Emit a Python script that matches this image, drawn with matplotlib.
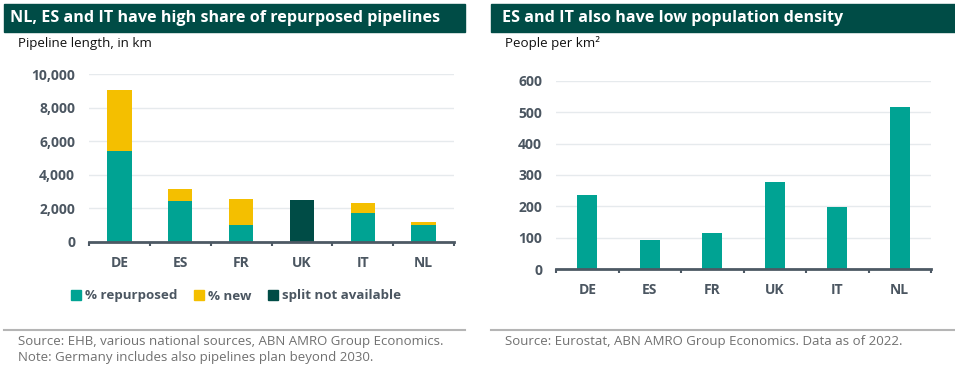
import numpy as np
import matplotlib
matplotlib.use("Agg")
import matplotlib.pyplot as plt
from matplotlib.patches import Rectangle, Patch
from matplotlib.lines import Line2D

plt.rcParams['font.family'] = ['Open Sans', 'DejaVu Sans']

# data
countries = ['DE', 'ES', 'FR', 'UK', 'IT', 'NL']
repurposed = [5420, 2450, 1000, 0, 1710, 1000]
new = [3630, 680, 1530, 0, 580, 180]
not_split = [0, 0, 0, 2490, 0, 0]
density = [235, 93, 115, 278, 197, 517]

TEAL = '#00a393'
YELLOW = '#f4bf00'
DARK = '#004c46'
TXT = '#4b5661'
GRID = '#e6eaed'
W, H = 955, 367

fig = plt.figure(figsize=(W / 100, H / 100), dpi=100)


def box(x0, y0, x1, y1):
    # pixel box -> figure fraction [l, b, w, h]
    return [x0 / W, 1 - y1 / H, (x1 - x0) / W, (y1 - y0) / H]


def style(ax, ymax, step):
    ax.set_xlim(-0.5, len(countries) - 0.5)
    ax.set_ylim(0, ymax)
    ax.set_yticks(np.arange(0, ymax + 1, step))
    ax.set_xticks(range(len(countries)))
    ax.set_xticklabels(countries)
    ax.set_xticks(np.arange(-0.5, len(countries)), minor=True)
    for s in ['top', 'right', 'left']:
        ax.spines[s].set_visible(False)
    ax.spines['bottom'].set_color('#4d5964')
    ax.spines['bottom'].set_linewidth(2)
    ax.tick_params(axis='x', which='major', length=0, pad=10, labelsize=10, labelcolor=TXT)
    ax.tick_params(axis='x', which='minor', length=3, width=1.5, color='#4d5964')
    ax.tick_params(axis='y', length=0, pad=10, labelsize=10, labelcolor=TXT)
    ax.grid(axis='y', color=GRID, linewidth=1)
    ax.set_axisbelow(True)


def bold_ticks(ax):
    for lab in ax.get_xticklabels() + ax.get_yticklabels():
        lab.set_fontweight('bold')


def header(x0, x1, tx, title, sub):
    fig.patches.append(Rectangle((x0 / W, 1 - 32 / H), (x1 - x0) / W, 28 / H,
                                 transform=fig.transFigure, color=DARK, zorder=0))
    fig.text(tx / W, 1 - 18 / H, title, color='white', fontsize=11.6,
             fontweight='bold', va='center')
    fig.text((x0 + 14) / W, 1 - 43 / H, sub, color='#111111', fontsize=9.6, va='center')


# left panel
ax1 = fig.add_axes(box(89, 74, 454, 241.7))
x = np.arange(len(countries))
ax1.bar(x, repurposed, width=0.4, color=TEAL)
ax1.bar(x, new, bottom=repurposed, width=0.4, color=YELLOW)
ax1.bar(x, not_split, width=0.4, color=DARK)
style(ax1, 10000, 2000)
ax1.yaxis.set_major_formatter(matplotlib.ticker.FuncFormatter(lambda v, p: f'{int(v):,}'))
bold_ticks(ax1)

header(4, 465, 10, 'NL, ES and IT have high share of repurposed pipelines', 'Pipeline length, in km')

handles = [Patch(color=TEAL), Patch(color=YELLOW), Patch(color=DARK)]
leg = fig.legend(handles, ['% repurposed', '% new', 'split not available'], loc='center',
                 bbox_to_anchor=(236 / W, 1 - 296 / H), ncol=3, frameon=False,
                 handlelength=0.7, handleheight=0.7, handletextpad=0.3, columnspacing=1.3,
                 prop={'size': 9.6, 'weight': 'bold'})
for t in leg.get_texts():
    t.set_color(TXT)

fig.add_artist(Line2D([4 / W, 465 / W], [1 - 330 / H] * 2, color='#b5b5b5', lw=1.5))
fig.text(18 / W, 1 - 341 / H, 'Source: EHB, various national sources, ABN AMRO Group Economics.',
         color='#707070', fontsize=9.5, va='center')
fig.text(18 / W, 1 - 358 / H, 'Note: Germany includes also pipelines plan beyond 2030.',
         color='#707070', fontsize=9.5, va='center')

# right panel
ax2 = fig.add_axes(box(556, 80.7, 931, 269.3))
ax2.bar(x, density, width=0.32, color=TEAL)
style(ax2, 600, 100)
bold_ticks(ax2)

header(491, 955, 502, 'ES and IT also have low population density', 'People per km²')

fig.add_artist(Line2D([491 / W, 955 / W], [1 - 330 / H] * 2, color='#b5b5b5', lw=1.5))
fig.text(505 / W, 1 - 341 / H, 'Source: Eurostat, ABN AMRO Group Economics. Data as of 2022.',
         color='#707070', fontsize=9.5, va='center')

fig.savefig('out.png', dpi=100, facecolor='white')
